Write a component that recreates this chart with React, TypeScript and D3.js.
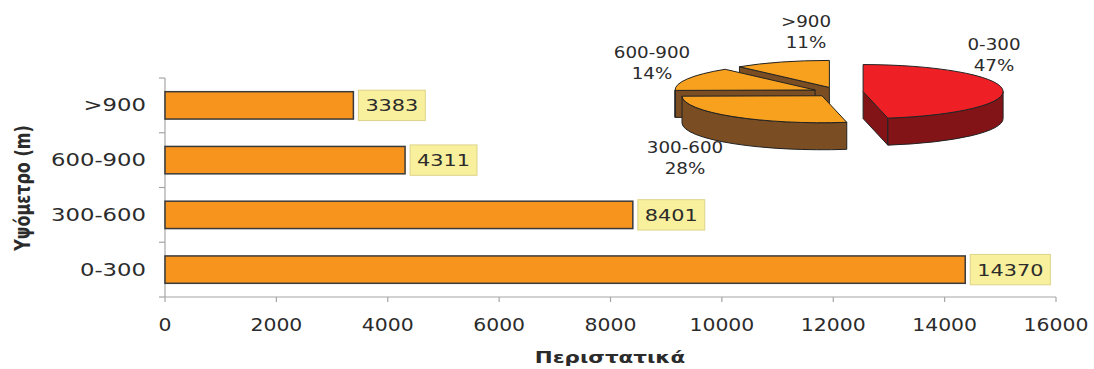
import React from 'react';
import * as d3 from 'd3';

// Cases by altitude band (metres)
const categories = ['0-300', '300-600', '600-900', '>900'];
const cases = [14370, 8401, 4311, 3383];
const xTicks = [0, 2000, 4000, 6000, 8000, 10000, 12000, 14000, 16000];
const xTitle = 'Περιστατικά';
const yTitle = 'Υψόμετρο (m)';

const W = 1094;
const H = 369;
const FONT = '"DejaVu Sans", Verdana, sans-serif';
const SX = 1.3; // horizontal text stretch

const barFill = '#F7941E';
const barStroke = '#3a3a3a';
const axisColor = '#A6A6A6';
const textColor = '#2b2b2b';

const pieTop = ['#EE2026', '#F7A11E', '#F7A11E', '#F7A11E'];
const pieSide = ['#821418', '#7A4E22', '#7A4E22', '#7A4E22'];

type TProps = {
  x: number; y: number; size: number; anchor?: string; weight?: string | number;
  children: React.ReactNode; sx?: number; rotate?: number; fill?: string;
};
function T({ x, y, size, anchor = 'start', weight = 'normal', children, sx = SX, rotate = 0, fill = textColor }: TProps) {
  return (
    <text
      transform={`translate(${x},${y}) scale(${sx},1)${rotate ? ` rotate(${rotate})` : ''}`}
      fontFamily={FONT}
      fontSize={size}
      fontWeight={weight}
      textAnchor={anchor as any}
      fill={fill}
    >
      {children}
    </text>
  );
}

export default function App() {
  const x = d3.scaleLinear().domain([0, 16000]).range([165, 1056]);
  const yDomain = [...categories].reverse();
  const y = d3.scaleBand<string>().domain(yDomain).range([78, 297]).paddingInner(0.5).paddingOuter(0.25);
  const bh = y.bandwidth();
  const axisY = 297;

  // 3D pie geometry
  const cx0 = 838, cy0 = 92, rx = 140, ry = 27, depth = 27, explode = 0.18;
  const total = d3.sum(cases);
  const arcs = d3.pie<number>().sort(null).value((d) => d)(cases);
  const pt = (c: [number, number], a: number, dy = 0): [number, number] => [
    c[0] + rx * Math.sin(a),
    c[1] - ry * Math.cos(a) + dy,
  ];
  const slices = arcs.map((a, i) => {
    const mid = (a.startAngle + a.endAngle) / 2;
    const c: [number, number] = [cx0 + explode * rx * Math.sin(mid), cy0 - explode * ry * Math.cos(mid)];
    const a0 = a.startAngle, a1 = a.endAngle;
    const large = a1 - a0 > Math.PI ? 1 : 0;
    const p0 = pt(c, a0), p1 = pt(c, a1);
    const top = `M${c[0]},${c[1]}L${p0[0]},${p0[1]}A${rx},${ry} 0 ${large} 1 ${p1[0]},${p1[1]}Z`;
    // outer wall on the front half
    const s0 = Math.max(a0, Math.PI / 2), s1 = Math.min(a1, (3 * Math.PI) / 2);
    let wall = '';
    if (s1 > s0) {
      const q0 = pt(c, s0), q1 = pt(c, s1), q1b = pt(c, s1, depth), q0b = pt(c, s0, depth);
      wall = `M${q0[0]},${q0[1]}A${rx},${ry} 0 0 1 ${q1[0]},${q1[1]}L${q1b[0]},${q1b[1]}A${rx},${ry} 0 0 0 ${q0b[0]},${q0b[1]}Z`;
    }
    const faces: string[] = [];
    const face = (ang: number) => {
      const p = pt(c, ang), pb = pt(c, ang, depth);
      return `M${c[0]},${c[1]}L${p[0]},${p[1]}L${pb[0]},${pb[1]}L${c[0]},${c[1] + depth}Z`;
    };
    if (Math.sin(a0) < -1e-6) faces.push(face(a0));
    if (Math.sin(a1) > 1e-6) faces.push(face(a1));
    return { i, top, wall, faces, pct: Math.round((cases[i] / total) * 100) };
  });
  // back-to-front drawing order
  const order = [3, 2, 0, 1];

  const pieLabelPos: [number, number][] = [
    [994, 45],
    [685, 148],
    [652, 53],
    [806, 22],
  ];

  return (
    <svg width={W} height={H} style={{ position: 'absolute', left: 0, top: 0, background: '#fff' }}>
      {/* axes */}
      <line x1={x(0)} x2={x(0)} y1={78} y2={axisY} stroke={axisColor} strokeWidth={1.2} />
      <line x1={x(0)} x2={x(16000)} y1={axisY} y2={axisY} stroke={axisColor} strokeWidth={1.2} />
      {[...yDomain.map((d) => y(d)! - (y.step() - bh) / 2), axisY].map((t, i) => (
        <line key={'yt' + i} x1={x(0) - 6} x2={x(0)} y1={t} y2={t} stroke={axisColor} strokeWidth={1.2} />
      ))}
      {xTicks.map((t) => (
        <g key={'xt' + t}>
          <line x1={x(t)} x2={x(t)} y1={axisY} y2={axisY + 5} stroke={axisColor} strokeWidth={1.2} />
          <T x={x(t)} y={331} size={17} anchor="middle" sx={1.2}>{t}</T>
        </g>
      ))}

      {/* bars */}
      {categories.map((c, i) => {
        const v = cases[i];
        const by = y(c)!;
        const bx = x(v);
        const digits = String(v).length;
        const bw = digits * 13.23 + 14;
        return (
          <g key={c}>
            <rect x={x(0)} y={by} width={bx - x(0)} height={bh} fill={barFill} stroke={barStroke} strokeWidth={1.5} />
            <rect x={bx + 5} y={by - 1.5} width={bw} height={bh + 3} fill="#F8F09C" stroke="#DCD48A" strokeWidth={1} />
            <T x={bx + 12} y={by + bh / 2 + 6} size={16}>{v}</T>
            <T x={146} y={by + bh / 2 + 6} size={17.5} anchor="end">{c}</T>
          </g>
        );
      })}

      {/* axis titles */}
      <T x={610} y={363} size={16} weight="bold" anchor="middle" sx={1.34}>{xTitle}</T>
      <T x={30} y={188} size={16} weight="bold" anchor="middle" rotate={-90}>{yTitle}</T>

      {/* exploded 3D pie */}
      {order.map((k) => {
        const s = slices[k];
        return (
          <g key={'s' + k} stroke="#222" strokeWidth={1} strokeLinejoin="round">
            {s.faces.map((f, j) => (
              <path key={j} d={f} fill={pieSide[k]} />
            ))}
            {s.wall && <path d={s.wall} fill={pieSide[k]} />}
            <path d={s.top} fill={pieTop[k]} />
          </g>
        );
      })}
      {slices.map((s) => (
        <g key={'pl' + s.i}>
          <T x={pieLabelPos[s.i][0]} y={pieLabelPos[s.i][1] + 5} size={15} anchor="middle" sx={1.22}>{categories[s.i]}</T>
          <T x={pieLabelPos[s.i][0]} y={pieLabelPos[s.i][1] + 26} size={15} anchor="middle" sx={1.22}>{s.pct + '%'}</T>
        </g>
      ))}
    </svg>
  );
}
